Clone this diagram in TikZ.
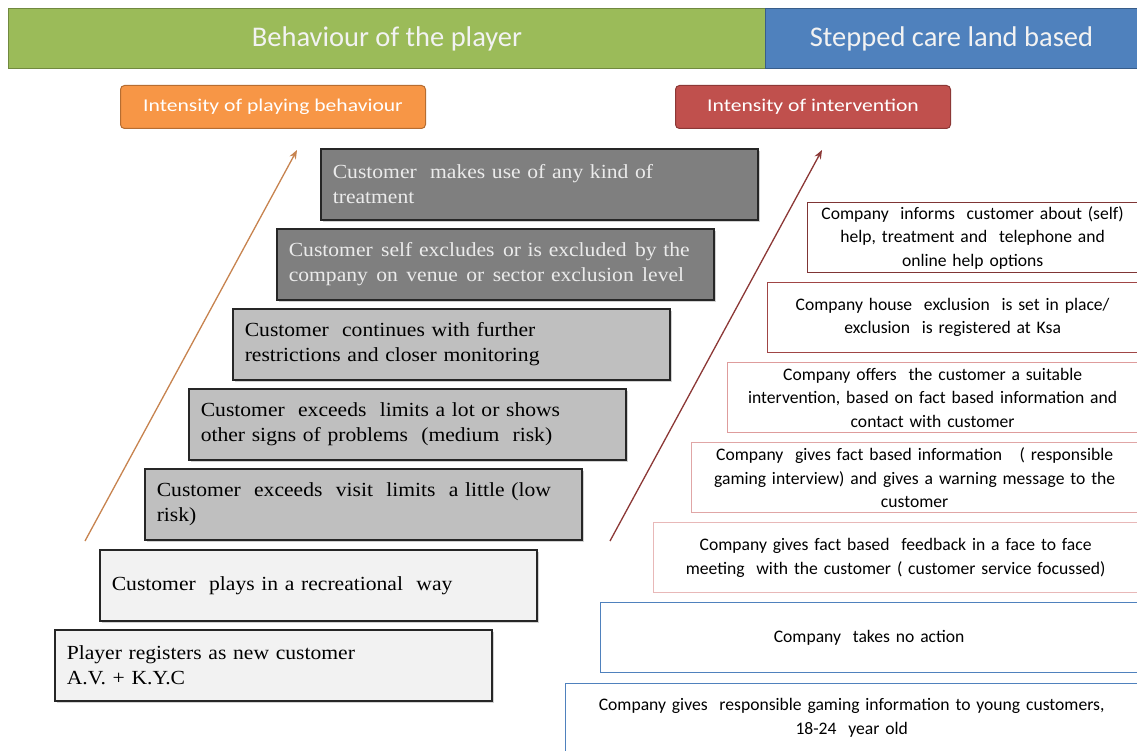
\documentclass[tikz,border=0pt]{standalone}
\usepackage{fontspec}
\setmainfont{Liberation Serif}[FakeStretch=1.08]
\newfontfamily\calib{Carlito}
\newfontfamily\calibwide{Carlito}[FakeStretch=1.2]
\usetikzlibrary{shadows,arrows.meta}
\definecolor{bgreen}{HTML}{9BBB59}
\definecolor{bgreenD}{HTML}{71893F}
\definecolor{bblue}{HTML}{4F81BD}
\definecolor{bblueD}{HTML}{385D8A}
\definecolor{borange}{HTML}{F79646}
\definecolor{borangeD}{HTML}{B66D31}
\definecolor{bred}{HTML}{C0504D}
\definecolor{bredD}{HTML}{8C3836}
\definecolor{gdark}{HTML}{7F7F7F}
\definecolor{gmid}{HTML}{BFBFBF}
\definecolor{glight}{HTML}{F2F2F2}
\definecolor{rb1}{HTML}{7F3535}
\definecolor{rb2}{HTML}{A04545}
\definecolor{rb3}{HTML}{DE9C9C}
\definecolor{rb4}{HTML}{E0A6A6}
\definecolor{rb5}{HTML}{E8B8B8}
\definecolor{arrO}{HTML}{C7834F}
\definecolor{arrR}{HTML}{8C3836}
\newcommand{\gapw}{\hspace{0.42em}}
\tikzset{
  banner/.style={anchor=north west, inner sep=0pt, text=white!95!black, font=\calib\fontsize{28.5}{32}\selectfont, line width=1pt},
  tag/.style={anchor=north west, rounded corners=4pt, inner sep=0pt, minimum height=43, text=white, font=\calibwide\fontsize{18}{20}\selectfont, line width=1pt},
  leftbox/.style={anchor=north west, draw=black!85, line width=1.6pt, minimum width=437, minimum height=71, text width=413, inner xsep=12pt, align=left, font=\fontsize{20}{25}\selectfont, drop shadow={shadow xshift=2pt, shadow yshift=-2pt, opacity=0.35}},
  darkbox/.style={leftbox, fill=gdark, text=white!92!black},
  midbox/.style={leftbox, fill=gmid, text=black},
  lightbox/.style={leftbox, fill=glight, text=black},
  rightbox/.style={anchor=north west, line width=1.3pt, minimum height=70, align=center, font=\calib\fontsize{17.6}{23.5}\selectfont, text=black},
  rise/.style={line width=1.3pt, -{Stealth[length=9pt,width=7pt]}}
}
\begin{document}
\begin{tikzpicture}[x=1pt,y=-1pt]
\useasboundingbox[fill=white] (0,0) rectangle (1137,751);
% banners
\node[banner, fill=bgreen, draw=bgreenD, minimum width=757, minimum height=60] (ban1) at (8,8) {Behaviour of the player};
\node[banner, fill=bblue, draw=bblueD, minimum width=372, minimum height=60] (ban2) at (765,8) {Stepped care land based};
% tags
\node[tag, fill=borange, draw=borangeD, minimum width=305] (tag1) at (120,85) {Intensity of playing behaviour};
\node[tag, fill=bred, draw=bredD, minimum width=275] (tag2) at (675,85) {Intensity of intervention};
% arrows
\coordinate (oS) at (85,541);
\coordinate (oE) at (297,150);
\coordinate (rS) at (610,541);
\coordinate (rE) at (822,150);
\draw[rise, arrO] (oS) -- (oE);
\draw[rise, arrR] (rS) -- (rE);
% left steps
\node[darkbox] (L1) at (320,148) {Customer\ \ makes use of any kind of\\treatment};
\node[darkbox] (L2) at (276,228) {\mbox{Customer\gapw self excludes\gapw or is excluded\gapw by the}\\\mbox{company\gapw on\gapw venue\gapw or\gapw sector exclusion\gapw level}};
\node[midbox] (L3) at (232,308) {Customer\ \ continues with further\\restrictions and closer monitoring};
\node[midbox] (L4) at (188,388) {Customer\ \ exceeds\ \ limits a lot or shows\\other signs of problems\ \ (medium\ \ risk)};
\node[midbox] (L5) at (144,468) {Customer\ \ exceeds\ \ visit\ \ limits\ \ a little (low\\risk)};
\node[lightbox] (L6) at (99,549) {Customer\ \ plays in a recreational\ \ way};
\node[lightbox] (L7) at (54,629) {Player registers as new customer\\A.V. + K.Y.C};
% right steps
\node[rightbox, draw=rb1, minimum width=330, text width=322] (R1) at (807,202) {Company\ \ informs\ \ customer about (self)\\help, treatment and\ \ telephone and\\online help options};
\node[rightbox, draw=rb2, minimum width=370, text width=360] (R2) at (767,282) {Company house\ \ exclusion\ \ is set in place/\\exclusion\ \ is registered at Ksa};
\node[rightbox, draw=rb3, minimum width=410, text width=400] (R3) at (727,362) {Company offers\ \ the customer a suitable\\intervention, based on fact based information and\\contact with customer};
\node[rightbox, draw=rb4, minimum width=446, text width=436] (R4) at (691,442) {Company\ \ gives fact based information\ \ \ ( responsible\\gaming interview) and gives a warning message to the\\customer};
\node[rightbox, draw=rb5, minimum width=484, text width=474] (R5) at (653,522) {Company gives fact based\ \ feedback in a face to face\\meeting\ \ with the customer ( customer service focussed)};
\node[rightbox, draw=bblue, minimum width=537, text width=527] (R6) at (600,602) {Company\ \ takes no action};
\node[rightbox, draw=bblue, minimum width=572, text width=562, minimum height=68] (R7) at (565,683) {Company gives\ \ responsible gaming information to young customers,\\18-24\ \ year old};
\end{tikzpicture}
\end{document}
